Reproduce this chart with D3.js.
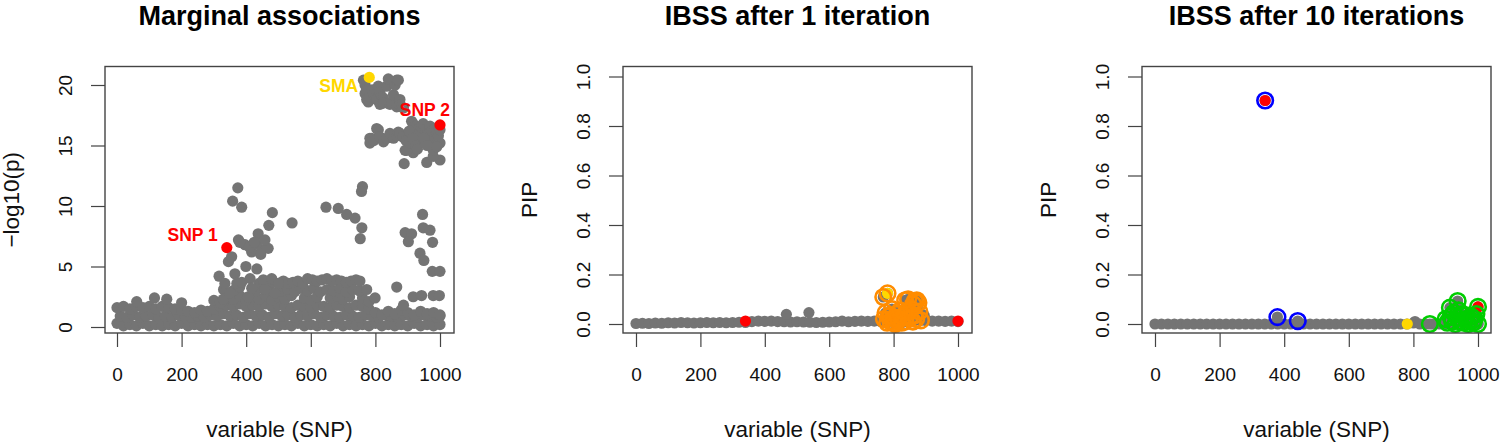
<!DOCTYPE html>
<html>
<head>
<meta charset="utf-8">
<script src="https://cdn.jsdelivr.net/npm/d3@7"></script>
<style>
  body { margin: 0; background: #fff; }
  svg { display: block; }
</style>
</head>
<body>
<div id="chart"></div>
<script>
// ---- data: [SNP index, value] ----

// tick labels
const xTicks = [0, 200, 400, 600, 800, 1000];
const margTicks = [0, 5, 10, 15, 20];
const pipTicks = [0, 0.2, 0.4, 0.6, 0.8, 1.0];

const titles = ["Marginal associations", "IBSS after 1 iteration", "IBSS after 10 iterations"];

// panel 1: -log10(p)
const margBandLow = [[0,0.3],[20,0.1],[40,0.2],[60,0.1],[80,0.3],[100,0.1],[120,0.2],[140,0.1],[160,0.2],[180,0.1],
  [200,0.3],[220,0.1],[240,0.2],[260,0.1],[280,0.2],[300,0.1],[320,0.2],[340,0.1],[360,0.3],[380,0.1],
  [400,0.2],[420,0.1],[440,0.3],[460,0.1],[480,0.2],[500,0.1],[520,0.2],[540,0.1],[560,0.3],[580,0.1],
  [600,0.2],[620,0.1],[640,0.2],[660,0.1],[680,0.3],[700,0.1],[720,0.2],[740,0.1],[760,0.2],[780,0.1],
  [800,0.3],[820,0.1],[840,0.2],[860,0.1],[880,0.2],[900,0.1],[920,0.3],[940,0.1],[960,0.2],[980,0.1],[1000,0.2]];

const margBandMid = [[10,0.9],[30,0.8],[50,1.0],[70,0.8],[90,0.9],[110,1.0],[130,0.8],[150,0.9],[170,0.8],[190,1.0],
  [210,0.9],[230,0.8],[250,0.9],[270,0.8],[290,1.0],[310,0.9],[330,1.1],[350,0.9],[370,1.0],[390,0.8],
  [410,1.1],[430,0.9],[450,1.0],[470,0.8],[490,1.1],[510,0.9],[530,1.0],[550,0.8],[570,1.0],[590,0.9],
  [610,1.1],[630,0.8],[650,1.0],[670,0.9],[690,0.8],[710,1.0],[730,0.9],[750,0.8],[770,1.0],[790,0.9],
  [810,0.8],[830,1.0],[850,0.9],[870,0.8],[890,1.0],[910,0.9],[930,0.8],[950,1.0],[970,0.9],[990,0.8],[1000,0.9]];

const margBandTop = [[0,1.6],[20,1.7],[40,1.5],[60,1.7],[80,1.6],[100,1.7],[120,1.5],[140,1.7],[160,1.6],[180,1.5],
  [200,1.4],[220,1.3],[240,1.2],[260,1.4],[280,1.3],[300,1.5],[320,1.7],[340,1.8],[360,1.7],[380,1.9],
  [400,1.7],[420,1.8],[440,1.7],[460,1.9],[480,1.7],[500,1.8],[520,1.7],[540,1.6],[560,1.8],[580,1.7],
  [600,1.6],[620,1.8],[640,1.7],[660,1.6],[680,1.8],[700,1.7],[720,1.6],[740,1.8],[760,1.7],[780,1.5],
  [800,1.2],[820,1.0],[840,1.3],[860,1.1],[880,1.4],[900,1.2],[920,1.0],[940,1.3],[960,1.1],[980,1.2],[1000,1.0]];

const margMidFill = [[300,2.2],[320,2.0],[340,2.4],[360,2.3],[380,2.6],[400,2.2],[420,2.5],[440,2.3],[460,2.6],[480,2.2],
  [500,2.5],[520,2.3],[540,2.6],[580,2.4],[600,2.2],[620,2.5],[660,2.4],[680,2.6],[700,2.3],[720,2.5],[760,2.4],[780,2.1],
  [330,3.1],[360,3.0],[380,3.3],[430,3.0],[470,3.2],[510,3.0],[530,3.1],[550,2.9],[570,3.2],[590,3.0],
  [610,3.2],[630,2.9],[650,3.1],[670,3.0],[690,3.2],[710,2.9],[730,3.1],[750,3.0],
  [440,3.6],[455,3.7],[470,3.8],[485,3.7],[500,3.6],[515,3.8],[530,3.6],[545,3.7],[560,3.8],[575,3.6],
  [590,4.0],[605,3.9],[620,3.8],[635,3.9],[650,4.0],[665,3.8],[680,3.9],[695,3.8],[710,3.7],[725,3.8],[740,3.9],[752,3.8]];

const margHigh = [[61,2.1],[116,2.4],[154,2.3],[200,2.0],
  [316,4.2],[334,3.6],[329,2.3],[350,2.8],[345,5.4],[355,5.8],[365,4.4],[371,3.6],[386,3.7],[399,5.0],[406,2.5],
  [412,4.0],[417,3.2],[433,4.8],[453,3.9],[458,3.1],[479,4.0],[489,2.8],[500,3.6],
  [374,11.5],[358,10.4],[386,9.9],[481,9.45],[470,8.4],[437,7.7],[376,7.2],[396,6.8],[417,6.2],[448,6.4],
  [468,6.5],[432,6.9],[458,7.2],[380,7.0],[410,6.6],[425,7.0],[445,6.0],
  [542,8.6],[647,9.9],[685,9.8],[711,9.3],[737,9.0],[758,8.2],[753,7.3],[760,11.6],[757,11.2],
  [889,13.5],[959,13.6],[1000,13.8],[979,14.1],[892,14.6],[917,14.4],[897,14.6],[979,14.6],
  [946,9.3],[948,8.2],[969,8.0],[892,7.8],[912,7.7],[902,7.05],[977,7.0],[938,6.1],[950,5.5],[976,4.6],[1000,4.6],
  [866,3.3],[917,2.5],[943,2.6],[979,2.6],[998,2.6],[887,1.8],[773,3.1],[799,2.4],
  [763,20.4],[768,20.0],[768,19.3],[773,19.6],[778,18.6],[773,18.8],[783,19.0],[790,19.6],[795,19.2],[800,18.9],
  [804,18.8],[809,19.9],[814,19.4],[814,18.4],[820,19.0],[825,18.9],[825,18.5],[835,19.9],[840,20.5],[845,18.4],
  [850,18.5],[856,19.2],[861,20.0],[866,20.4],[866,18.2],[871,20.4],[876,18.8],[876,18.35],[882,18.2],[887,18.1],
  [804,16.4],[809,16.3],[788,15.6],[783,15.6],[783,15.2],[795,15.4],[814,15.7],[825,15.3],[835,15.6],[845,16.0],
  [856,15.6],[866,15.8],[871,16.1],[876,16.0],[885,15.7],[895,15.4],[907,15.2],[912,17.0],[917,16.8],[925,16.6],
  [928,16.3],[935,16.0],[938,15.2],[943,16.5],[948,16.8],[955,16.3],[960,15.9],[969,16.6],[969,15.5],[975,16.2],
  [985,16.4],[990,16.1],[995,15.8],[1000,15.2],[1000,16.3],[905,16.2],[915,15.6],[925,15.0],[950,15.6],[985,15.0],
  [930,14.7],[960,15.0],[990,14.9]];

const margSNP = [[340,6.56],[1000,16.7]];
const margSMA = [[781,20.63]];

// text labels in panel 1
const labelNames = ["SNP 1", "SNP 2", "SMA"];
const labelAt = [[340,6.56],[1000,16.7],[781,20.63]];

// panel 2: PIP after 1 iteration
const pip1Band = [[0,0.002],[20,0.003],[40,0.002],[60,0.004],[80,0.003],[100,0.005],[120,0.004],[140,0.006],[160,0.005],[180,0.004],
  [200,0.005],[220,0.006],[240,0.005],[260,0.006],[280,0.005],[300,0.006],[320,0.007],[340,0.006],[360,0.01],[380,0.012],
  [400,0.011],[420,0.012],[440,0.01],[460,0.009],[480,0.008],[500,0.009],[520,0.008],[540,0.007],[560,0.006],[580,0.007],
  [600,0.008],[620,0.009],[640,0.012],[660,0.009],[680,0.011],[700,0.012],[720,0.011],[740,0.012],[760,0.01],[780,0.008],
  [800,0.01],[820,0.012],[840,0.014],[860,0.015],[880,0.016],[900,0.014],[920,0.012],[940,0.012],[960,0.011],[980,0.012],[1000,0.01]];
const pip1Extra = [[467,0.039],[537,0.046],[895,0.035]];
const pip1CS = [[768,0.109],[781,0.124],[836,0.096],[872,0.096],[861,0.08],[845,0.1],[866,0.093],[877,0.086],
  [770,0.02],[775,0.045],[780,0.005],[785,0.03],[790,0.01],[795,0.06],[800,0.02],[805,0.0],[810,0.04],[815,0.015],
  [820,0.055],[825,0.005],[830,0.03],[835,0.01],[840,0.05],[850,0.025],[855,0.06],[860,0.01],[865,0.035],[870,0.02],
  [880,0.05],[885,0.015],[790,0.035],[800,0.005],[812,0.025]];
const pip1SNP = [[340,0.012],[1000,0.012]];
const pip1SMA = [[781,0.124]];

// panel 3: PIP after 10 iterations
const pip10Band = [[0,0],[20,0],[40,0],[60,0],[80,0],[100,0],[120,0],[140,0],[160,0],[180,0],
  [200,0],[220,0],[240,0],[260,0],[280,0],[300,0],[320,0],[340,0],[360,0],[380,0],
  [400,0],[420,0],[440,0],[460,0],[480,0],[500,0],[520,0],[540,0],[560,0],[580,0],
  [600,0],[620,0],[640,0],[660,0],[680,0],[700,0],[720,0],[740,0],[760,0],[780,0],
  [800,0.004],[805,0.01],[820,0],[840,0],[860,0],[880,0],[900,0],[920,0],[940,0],[960,0],[980,0],[1000,0]];
const pip10CS1 = [[341,0.903],[379,0.028],[442,0.012]];
const pip10CS2 = [[851,0.0],[913,0.066],[937,0.093],[1000,0.069],[900,0.02],[905,0.005],[915,0.03],[920,0.01],
  [925,0.045],[930,0.0],[935,0.025],[945,0.01],[950,0.04],[955,0.005],[960,0.02],[965,0.035],[970,0.0],
  [975,0.015],[980,0.03],[985,0.005],[990,0.02],[995,0.04],[1000,0.0],[940,0.055]];
const pip10SNP = [[341,0.903],[1000,0.069]];
const pip10SMA = [[781,0.0]];

// ---- drawing ----
const width = 1500;
const height = 443;
const font = "'Liberation Sans', Arial, Helvetica, sans-serif";
const grey = "#747474";
const dotR = 5.6;
const ringR = 7.8;

const svg = d3.select("#chart")
    .append("svg")
    .attr("width", width)
    .attr("height", height)
    .style("background", "white");

const panels = [
  { left: 105, right: 454, xRange: [117, 440], yDomain: [0, 20], yRange: [327, 85],
    ticks: margTicks, fmt: d3.format("d"), ylab: "\u2212log10(p)" },
  { left: 623, right: 972, xRange: [636, 958], yDomain: [0, 1], yRange: [324, 76.5],
    ticks: pipTicks, fmt: d3.format(".1f"), ylab: "PIP" },
  { left: 1142, right: 1491, xRange: [1155, 1478], yDomain: [0, 1], yRange: [324, 76.5],
    ticks: pipTicks, fmt: d3.format(".1f"), ylab: "PIP" }
];
const boxTop = 66.5;
const boxBottom = 333;

function dots(g, data, x, y, fill, r) {
  g.append("g").selectAll("circle")
    .data(data)
    .enter()
    .append("circle")
    .attr("cx", d => x(d[0]))
    .attr("cy", d => y(d[1]))
    .attr("r", r || dotR)
    .attr("fill", fill);
}

function rings(g, data, x, y, stroke) {
  g.append("g").selectAll("circle")
    .data(data)
    .enter()
    .append("circle")
    .attr("cx", d => x(d[0]))
    .attr("cy", d => y(d[1]))
    .attr("r", ringR)
    .attr("fill", "none")
    .attr("stroke", stroke)
    .attr("stroke-width", 2.6);
}

function frame(p, i) {
  const g = svg.append("g");
  const x = d3.scaleLinear().domain([0, 1000]).range(p.xRange);
  const y = d3.scaleLinear().domain(p.yDomain).range(p.yRange);

  const xAxis = g.append("g")
    .attr("transform", `translate(0,${boxBottom})`)
    .call(d3.axisBottom(x).tickValues(xTicks).tickSize(14).tickPadding(21).tickFormat(d3.format("d")));
  xAxis.select(".domain").remove();

  const yAxis = g.append("g")
    .attr("transform", `translate(${p.left},0)`)
    .call(d3.axisLeft(y).tickValues(p.ticks).tickSize(14).tickFormat(p.fmt));
  yAxis.select(".domain").remove();
  yAxis.selectAll("text")
    .attr("transform", "rotate(-90)")
    .attr("x", 0)
    .attr("y", -33)
    .attr("dy", null)
    .attr("text-anchor", "middle");

  [xAxis, yAxis].forEach(a => {
    a.attr("font-family", font).attr("font-size", null);
    a.selectAll("line").attr("stroke", "#444").attr("stroke-width", 1.2);
    a.selectAll("text").attr("fill", "#111").style("font-size", "19px");
  });

  const cx = (p.left + p.right) / 2;
  const cy = (boxTop + boxBottom) / 2;

  svg.append("text")
    .attr("x", cx).attr("y", 25)
    .attr("text-anchor", "middle")
    .attr("font-family", font)
    .attr("font-weight", "bold")
    .attr("font-size", 27)
    .attr("fill", "#000")
    .text(titles[i]);

  svg.append("text")
    .attr("x", cx).attr("y", 437)
    .attr("text-anchor", "middle")
    .attr("font-family", font)
    .attr("font-size", 22.5)
    .attr("fill", "#111")
    .text("variable (SNP)");

  svg.append("text")
    .attr("transform", `translate(${p.left - 94},${cy}) rotate(-90)`)
    .attr("dy", "0.35em")
    .attr("text-anchor", "middle")
    .attr("font-family", font)
    .attr("font-size", 22.5)
    .attr("fill", "#111")
    .text(p.ylab);

  return { g, x, y, box: () => g.append("rect")
    .attr("x", p.left).attr("y", boxTop)
    .attr("width", p.right - p.left).attr("height", boxBottom - boxTop)
    .attr("fill", "none").attr("stroke", "#444").attr("stroke-width", 1.4) };
}

// panel 1
{
  const { g, x, y, box } = frame(panels[0], 0);
  dots(g, margBandLow, x, y, grey);
  dots(g, margBandMid, x, y, grey);
  dots(g, margBandTop, x, y, grey);
  dots(g, margMidFill, x, y, grey);
  dots(g, margHigh, x, y, grey);
  dots(g, margSMA, x, y, "#FFD700");
  dots(g, margSNP, x, y, "#FF0000");

  const labelColor = ["#FF0000", "#FF0000", "#FFD700"];
  const labelShift = [[-9, -7], [10, -9], [-11, 15]];
  g.selectAll(".lab")
    .data(labelNames)
    .enter()
    .append("text")
    .attr("x", (d, k) => x(labelAt[k][0]) + labelShift[k][0])
    .attr("y", (d, k) => y(labelAt[k][1]) + labelShift[k][1])
    .attr("text-anchor", "end")
    .attr("font-family", font)
    .attr("font-weight", "bold")
    .attr("font-size", 17.5)
    .attr("fill", (d, k) => labelColor[k])
    .text(d => d);
  box();
}

// panel 2
{
  const { g, x, y, box } = frame(panels[1], 1);
  dots(g, pip1Band, x, y, grey);
  dots(g, pip1Extra, x, y, grey);
  dots(g, pip1CS, x, y, grey);
  dots(g, pip1SMA, x, y, "#FFD700");
  dots(g, pip1SNP, x, y, "#FF0000");
  rings(g, pip1CS, x, y, "#FF8C00");
  box();
}

// panel 3
{
  const { g, x, y, box } = frame(panels[2], 2);
  dots(g, pip10Band, x, y, grey);
  dots(g, pip10CS1, x, y, grey);
  dots(g, pip10CS2, x, y, grey);
  dots(g, pip10SMA, x, y, "#FFD700");
  dots(g, pip10SNP, x, y, "#FF0000");
  rings(g, pip10CS1, x, y, "#0000FF");
  rings(g, pip10CS2, x, y, "#00CD00");
  box();
}
</script>
</body>
</html>
